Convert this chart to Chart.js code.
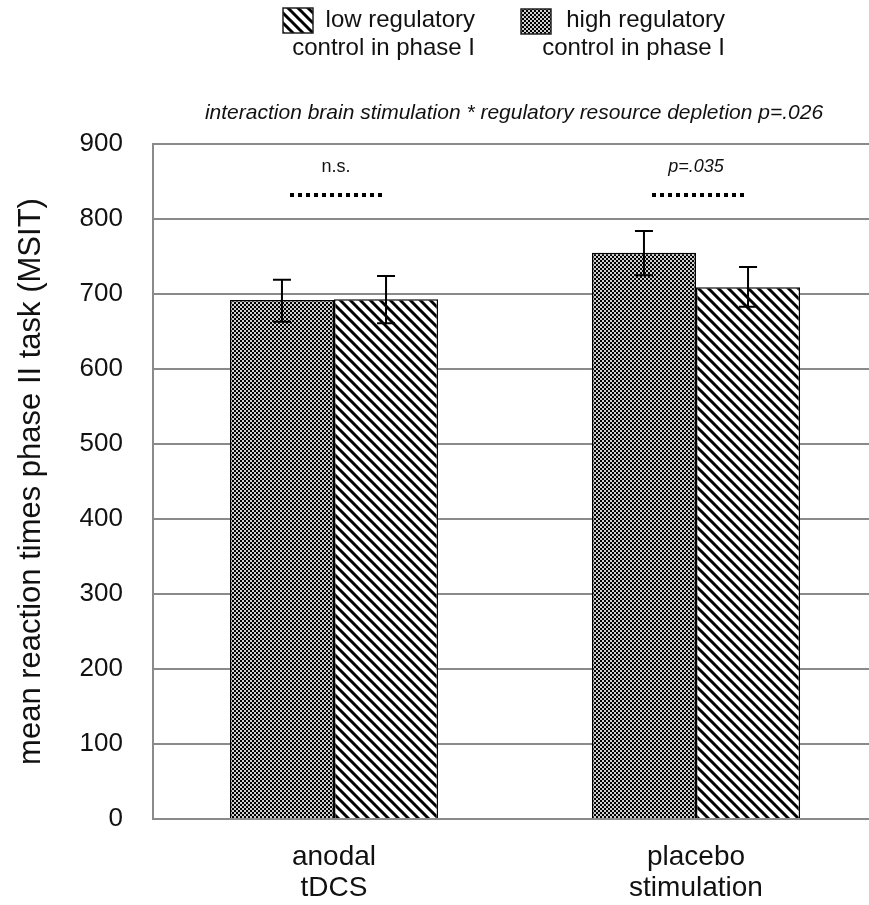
<!DOCTYPE html>
<html>
<head>
<meta charset="utf-8">
<script src="https://cdn.jsdelivr.net/npm/chart.js@4.4.3/dist/chart.umd.min.js"></script>
<style>
  html, body { margin: 0; padding: 0; background: #fff; overflow: hidden; }
  #wrap { width: 869px; height: 905px; overflow: hidden; }
</style>
</head>
<body>
<div id="wrap"><canvas id="chart" width="880" height="905"></canvas></div>
<script>
const categories = [["anodal", "tDCS"], ["placebo", "stimulation"]];
const seriesNames = ["high regulatory control in phase I", "low regulatory control in phase I"];
const highMeans = [692, 755];
const lowMeans = [693, 709];
const highErrLow = [663, 725];
const highErrHigh = [719, 784];
const lowErrLow = [661, 683];
const lowErrHigh = [724, 736];
const yTicks = [0, 100, 200, 300, 400, 500, 600, 700, 800, 900];
const pairLabels = ["n.s.", "p=.035"];
const titleText = "interaction brain stimulation * regulatory resource depletion p=.026";
const FONT = "'Liberation Sans', Arial, sans-serif";

function checkerPattern() {
  const c = document.createElement("canvas");
  c.width = 4; c.height = 4;
  const g = c.getContext("2d");
  g.fillStyle = "#d0d0d0";
  g.fillRect(0, 0, 4, 4);
  g.fillStyle = "#000";
  g.fillRect(0, 0, 2, 2);
  g.fillRect(2, 2, 2, 2);
  return g.createPattern(c, "repeat");
}

function hatchPattern() {
  const c = document.createElement("canvas");
  c.width = 10; c.height = 10;
  const g = c.getContext("2d");
  g.fillStyle = "#fff";
  g.fillRect(0, 0, 10, 10);
  g.strokeStyle = "#000";
  g.lineWidth = 3;
  g.beginPath();
  g.moveTo(-2, -2); g.lineTo(12, 12);
  g.moveTo(-2, 8); g.lineTo(2, 12);
  g.moveTo(8, -2); g.lineTo(12, 2);
  g.stroke();
  return g.createPattern(c, "repeat");
}

const checker = checkerPattern();
const hatch = hatchPattern();

const errorBars = {
  id: "errorBars",
  afterDatasetsDraw(chart) {
    const ctx = chart.ctx;
    const y = chart.scales.y;
    const ranges = [[highErrLow, highErrHigh], [lowErrLow, lowErrHigh]];
    ctx.save();
    ctx.strokeStyle = "#000";
    ctx.lineWidth = 2;
    chart.data.datasets.forEach((ds, di) => {
      const meta = chart.getDatasetMeta(di);
      meta.data.forEach((bar, i) => {
        const top = y.getPixelForValue(ranges[di][1][i]);
        const bot = y.getPixelForValue(ranges[di][0][i]);
        ctx.beginPath();
        ctx.moveTo(bar.x, top); ctx.lineTo(bar.x, bot);
        ctx.moveTo(bar.x - 9, top); ctx.lineTo(bar.x + 9, top);
        ctx.moveTo(bar.x - 9, bot); ctx.lineTo(bar.x + 9, bot);
        ctx.stroke();
      });
    });
    ctx.restore();
  }
};

const extras = {
  id: "extras",
  afterDraw(chart) {
    const ctx = chart.ctx;
    const x = chart.scales.x;
    const y = chart.scales.y;
    ctx.save();
    ctx.fillStyle = "#111";

    // title
    ctx.font = "italic 21px " + FONT;
    ctx.textAlign = "center";
    ctx.textBaseline = "middle";
    ctx.fillText(titleText, 514, 113);

    // significance markers
    categories.forEach((c, i) => {
      const cx = x.getPixelForValue(i);
      ctx.font = (i === 0 ? "" : "italic ") + "18px " + FONT;
      ctx.fillStyle = "#111";
      ctx.textAlign = "center";
      ctx.fillText(pairLabels[i], cx + (i === 0 ? 2 : 0), 167);
      ctx.strokeStyle = "#000";
      ctx.lineWidth = 4;
      ctx.setLineDash([4, 4]);
      ctx.beginPath();
      ctx.moveTo(cx - 44, y.getPixelForValue(832));
      ctx.lineTo(cx + 48, y.getPixelForValue(832));
      ctx.stroke();
      ctx.setLineDash([]);
    });

    // legend
    const items = [
      { fill: hatch, box: [283, 8], right: 475 },
      { fill: checker, box: [521, 9], right: 725 }
    ];
    const lines = [["low regulatory", "control in phase I"], ["high regulatory", "control in phase I"]];
    items.forEach((it, i) => {
      ctx.fillStyle = it.fill;
      ctx.fillRect(it.box[0], it.box[1], 30, 25);
      ctx.strokeStyle = "#222";
      ctx.lineWidth = 1.5;
      ctx.strokeRect(it.box[0], it.box[1], 30, 25);
      ctx.fillStyle = "#111";
      ctx.font = "24px " + FONT;
      ctx.textAlign = "right";
      ctx.fillText(lines[i][0], it.right, 20);
      ctx.fillText(lines[i][1], it.right, 48);
    });
    ctx.restore();
  }
};

new Chart(document.getElementById("chart"), {
  type: "bar",
  data: {
    labels: categories,
    datasets: [
      { label: seriesNames[0], data: highMeans, backgroundColor: checker, borderColor: "#000", borderWidth: 1.5 },
      { label: seriesNames[1], data: lowMeans, backgroundColor: hatch, borderColor: "#000", borderWidth: 1.5 }
    ]
  },
  options: {
    responsive: false,
    animation: false,
    devicePixelRatio: 1,
    layout: { padding: { top: 144, right: 3, left: 0, bottom: 0 } },
    datasets: { bar: { categoryPercentage: 0.575, barPercentage: 1 } },
    plugins: { legend: { display: false }, tooltip: { enabled: false }, title: { display: false } },
    scales: {
      x: {
        grid: { display: false },
        border: { display: true, color: "#8a8a8a", width: 2 },
        ticks: { color: "#111", font: { family: FONT, size: 28, lineHeight: 1.1 }, padding: 15, maxRotation: 0 },
        afterFit(s) { s.height = 86; }
      },
      y: {
        min: 0,
        max: 900,
        afterBuildTicks(s) { s.ticks = yTicks.map(v => ({ value: v })); },
        grid: { color: "#8a8a8a", lineWidth: 2, drawTicks: false },
        border: { display: true, color: "#8a8a8a", width: 2 },
        ticks: { color: "#111", font: { family: FONT, size: 26 }, padding: 30 },
        title: {
          display: true,
          text: "mean reaction times phase II task (MSIT)",
          color: "#111",
          font: { family: FONT, size: 31 },
          padding: { top: 13, bottom: 0 }
        },
        afterFit(s) { s.width = 153; }
      }
    }
  },
  plugins: [errorBars, extras]
});
</script>
</body>
</html>
